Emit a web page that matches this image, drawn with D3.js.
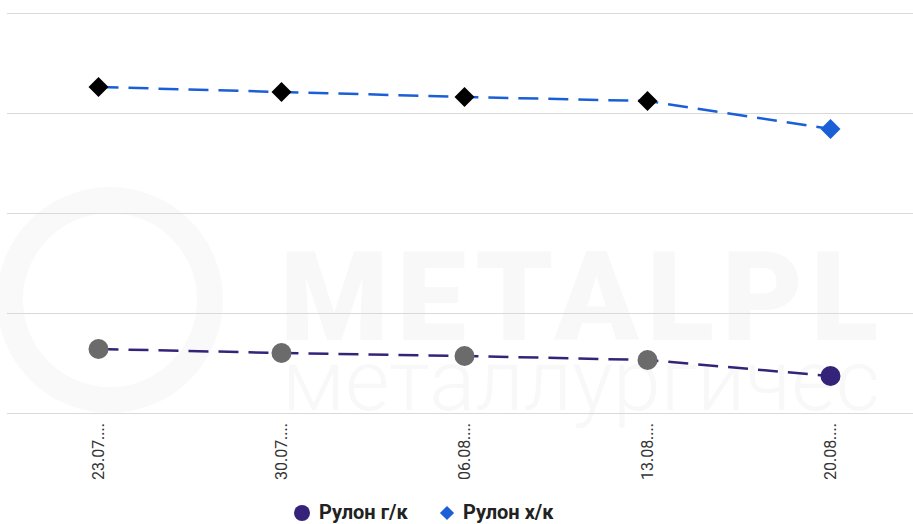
<!DOCTYPE html>
<html><head><meta charset="utf-8">
<script src="https://cdn.jsdelivr.net/npm/d3@7"></script>
<style>
html,body{margin:0;padding:0;background:#fff;overflow:hidden}
svg{display:block;font-family:Roboto,"Noto Sans",sans-serif}
</style></head>
<body><svg id="c" width="913" height="524"></svg>
<script>
const categories = ["23.07....", "30.07....", "06.08....", "13.08....", "20.08...."];
const hotRolled = [46400, 46000, 45700, 45300, 43700];   // Рулон г/к
const coldRolled = [72600, 72100, 71600, 71200, 68400];  // Рулон х/к
const seriesNames = ["Рулон г/к", "Рулон х/к"];
const yTicks = [40000, 50000, 60000, 70000, 80000];
const watermark = ["METALPL", "металлургичес"];

(function () {
const svg = d3.select("#c");
const mLeft = 7, mRight = 922, mTop = 13, mBottom = 413;

const x = d3.scaleBand().domain(categories).range([mLeft, mRight]);
const y = d3.scaleLinear().domain([40000, 80000]).range([mBottom, mTop]);

// faint watermark
svg.append("circle").attr("cx", 110).attr("cy", 300).attr("r", 100)
  .attr("fill", "none").attr("stroke", "#f9f9f9").attr("stroke-width", 26);
const wt = svg.append("text").attr("fill", "#f8f8f8").attr("font-family", "Roboto");
wt.append("tspan").attr("x", 280).attr("y", 340).attr("font-size", 124)
  .attr("font-weight", 900).attr("letter-spacing", 8).text(watermark[0]);
wt.append("tspan").attr("x", 282).attr("y", 410).attr("font-size", 86)
  .attr("font-weight", 300).text(watermark[1]);

// gridlines
svg.append("g").selectAll("line").data(yTicks).join("line")
  .attr("x1", mLeft).attr("x2", 913)
  .attr("y1", d => Math.round(y(d)) + 0.5).attr("y2", d => Math.round(y(d)) + 0.5)
  .attr("stroke", "#d9d9d9").attr("stroke-width", 1);

// x axis labels
const xAxis = d3.axisBottom(x).tickSize(0).tickPadding(0);
const gx = svg.append("g").attr("transform", `translate(0,${mBottom})`).call(xAxis);
gx.select(".domain").remove();
gx.selectAll("text")
  .attr("transform", "rotate(-90)")
  .attr("text-anchor", "end")
  .attr("x", -10).attr("y", 0).attr("dy", "0.35em")
  .attr("font-size", 16).attr("fill", "#333")
  .attr("font-family", "Roboto,sans-serif");

const cx = d => x(d) + x.bandwidth() / 2;
const line = d3.line().x(d => cx(d[0])).y(d => y(d[1]));

// lines
svg.append("path").datum(categories.map((c, i) => [c, coldRolled[i]]))
  .attr("d", line).attr("fill", "none").attr("stroke", "#1a5fd6")
  .attr("stroke-width", 2.5).attr("stroke-dasharray", "20,10");
svg.append("path").datum(categories.map((c, i) => [c, hotRolled[i]]))
  .attr("d", line).attr("fill", "none").attr("stroke", "#35237a")
  .attr("stroke-width", 2.5).attr("stroke-dasharray", "20,10");

// markers
const last = categories.length - 1;
svg.append("g").selectAll("path").data(categories).join("path")
  .attr("d", d3.symbol(d3.symbolSquare, 200)())
  .attr("transform", (d, i) => `translate(${cx(d)},${y(coldRolled[i])}) rotate(45)`)
  .attr("fill", (d, i) => i === last ? "#1a5fd6" : "#000");
svg.append("g").selectAll("circle").data(categories).join("circle")
  .attr("cx", d => cx(d)).attr("cy", (d, i) => y(hotRolled[i])).attr("r", 10)
  .attr("fill", (d, i) => i === last ? "#35237a" : "#6b6b6b");

// legend
const lg = svg.append("g").attr("font-size", 20).attr("font-weight", 700).attr("fill", "#222");
lg.append("circle").attr("cx", 302).attr("cy", 513).attr("r", 8).attr("fill", "#35237a");
lg.append("text").attr("x", 319).attr("y", 519).text(seriesNames[0]);
lg.append("path").attr("d", d3.symbol(d3.symbolSquare, 100)())
  .attr("transform", "translate(447,513) rotate(45)").attr("fill", "#1a5fd6");
lg.append("text").attr("x", 463).attr("y", 519).text(seriesNames[1]);
})();
</script></body></html>
